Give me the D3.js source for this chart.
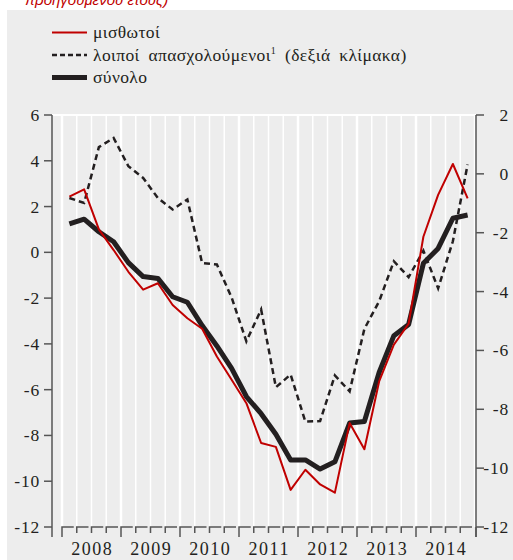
<!DOCTYPE html>
<html>
<head>
<meta charset="utf-8">
<script src="https://cdn.jsdelivr.net/npm/d3@7"></script>
</head>
<body style="margin:0; background:#fff">
<div id="chart"></div>
<script>
// quarterly data, 2008Q1 .. 2014Q4
var years = [2008, 2009, 2010, 2011, 2012, 2013, 2014];
var leftTicks = [6, 4, 2, 0, -2, -4, -6, -8, -10, -12];
var rightTicks = [2, 0, -2, -4, -6, -8, -10, -12];

// μισθωτοί (left scale)
var employees = [2.43, 2.75, 1.0, 0.1, -0.85, -1.63, -1.35, -2.3, -2.88, -3.34,
  -4.55, -5.57, -6.59, -8.33, -8.5, -10.38, -9.5, -10.14, -10.5, -7.46,
  -8.6, -5.64, -4.03, -3.12, 0.68, 2.51, 3.86, 2.36];
// λοιποί απασχολούμενοι (right scale)
var others = [-0.82, -0.99, 0.91, 1.22, 0.26, -0.14, -0.82, -1.21, -0.87, -3.03,
  -3.08, -4.2, -5.69, -4.61, -7.25, -6.82, -8.42, -8.4, -6.85, -7.39,
  -5.27, -4.33, -2.97, -3.51, -2.61, -3.89, -2.29, 0.32];
// σύνολο (left scale)
var total = [1.24, 1.45, 0.9, 0.46, -0.45, -1.06, -1.14, -1.94, -2.18, -3.2,
  -4.09, -5.07, -6.3, -7.05, -7.95, -9.07, -9.07, -9.47, -9.15, -7.46,
  -7.39, -5.25, -3.64, -3.15, -0.48, 0.17, 1.49, 1.63];

var legendLabels = ["μισθωτοί", "λοιποί απασχολούμενοι", "σύνολο"];

var W = 513, H = 560;
var red = "#c00000", dark = "#231f20", axisCol = "#555";

function serifText(sel, size, spacing) {
  return sel.style("font-family", "'Liberation Serif', 'Times New Roman', Tinos")
    .style("font-size", size + "px")
    .style("letter-spacing", (spacing || 0) + "px")
    .style("fill", dark);
}

var svg = d3.select("#chart").append("svg")
  .attr("width", W).attr("height", H);

// cut-off title at the top
svg.append("text")
  .attr("x", 25).attr("y", 5)
  .style("font-family", "'Liberation Sans', Arial")
  .style("font-size", "15px").style("font-style", "italic")
  .style("fill", red)
  .text("προηγούμενου έτους)");

svg.append("rect").attr("x", 7).attr("y", 10)
  .attr("width", W - 7).attr("height", H - 10).attr("fill", "#ededed");

var nQ = employees.length;
var x = d3.scaleLinear().domain([0, nQ]).range([62, 475]);
var yL = d3.scaleLinear().domain([-12, 6]).range([527, 115]);
var yR = d3.scaleLinear().domain([-12, 2]).range([527, 115]);

// white quarter gridlines
var grid = svg.append("g");
d3.range(0, nQ + 1).forEach(function(q) {
  grid.append("line")
    .attr("x1", x(q)).attr("x2", x(q))
    .attr("y1", yL(6)).attr("y2", yL(-12))
    .attr("stroke", "#fff")
    .attr("stroke-width", q % 4 == 0 ? 2.5 : 1.5);
});
grid.append("line").attr("x1", 52).attr("x2", 476)
  .attr("y1", yL(6)).attr("y2", yL(6))
  .attr("stroke", "#fff").attr("stroke-width", 2);

// left axis
var la = svg.append("g");
la.append("line").attr("x1", 52).attr("x2", 52)
  .attr("y1", yL(6)).attr("y2", 537)
  .attr("stroke", axisCol).attr("stroke-width", 1.5);
leftTicks.forEach(function(t) {
  la.append("line").attr("x1", 44).attr("x2", 52)
    .attr("y1", yL(t)).attr("y2", yL(t))
    .attr("stroke", axisCol).attr("stroke-width", 1.5);
  serifText(la.append("text"), 17.5, 0.8)
    .attr("x", 40).attr("y", yL(t) + 6)
    .attr("text-anchor", "end")
    .text(t);
});

// right axis
var ra = svg.append("g");
ra.append("line").attr("x1", 476).attr("x2", 476)
  .attr("y1", yR(2)).attr("y2", 537)
  .attr("stroke", axisCol).attr("stroke-width", 1.5);
rightTicks.forEach(function(t) {
  ra.append("line").attr("x1", 476).attr("x2", 484)
    .attr("y1", yR(t)).attr("y2", yR(t))
    .attr("stroke", axisCol).attr("stroke-width", 1.5);
  serifText(ra.append("text"), 17.5, 0.8)
    .attr("x", 509).attr("y", yR(t) + 6)
    .attr("text-anchor", "end")
    .text(t);
});

// bottom axis: bracket-like quarter segments
var xa = svg.append("g");
d3.range(0, nQ).forEach(function(q) {
  var x0 = x(q), x1 = x(q + 1) - 3;
  var len = q % 4 == 0 ? 10 : 6;
  xa.append("path")
    .attr("d", "M" + x0 + "," + (527 + len) + "V527H" + x1)
    .attr("fill", "none").attr("stroke", axisCol).attr("stroke-width", 1.5);
});
xa.append("line").attr("x1", 476).attr("x2", 476)
  .attr("y1", 527).attr("y2", 537)
  .attr("stroke", axisCol).attr("stroke-width", 1.5);
years.forEach(function(yr, k) {
  serifText(xa.append("text"), 18, 1.5)
    .attr("x", x(k * 4 + 2) + 0.75).attr("y", 555)
    .attr("text-anchor", "middle")
    .text(yr);
});

// series
var lineL = d3.line().x(function(d, i) { return x(i + 0.5); })
  .y(function(d) { return yL(d); });
var lineR = d3.line().x(function(d, i) { return x(i + 0.5); })
  .y(function(d) { return yR(d); });

svg.append("path").datum(others).attr("d", lineR)
  .attr("fill", "none").attr("stroke", dark)
  .attr("stroke-width", 2.5).attr("stroke-dasharray", "6,4");
svg.append("path").datum(total).attr("d", lineL)
  .attr("fill", "none").attr("stroke", dark)
  .attr("stroke-width", 5).attr("stroke-linejoin", "round");
svg.append("path").datum(employees).attr("d", lineL)
  .attr("fill", "none").attr("stroke", red)
  .attr("stroke-width", 2).attr("stroke-linejoin", "round");

// legend
var lg = svg.append("g");
var styles = [
  { stroke: red, w: 2, dash: null },
  { stroke: dark, w: 2.5, dash: "5,3" },
  { stroke: dark, w: 5, dash: null }
];
legendLabels.forEach(function(lbl, i) {
  var yy = 32.5 + i * 22.5;
  lg.append("line").attr("x1", 52).attr("x2", 87)
    .attr("y1", yy).attr("y2", yy)
    .attr("stroke", styles[i].stroke).attr("stroke-width", styles[i].w)
    .attr("stroke-dasharray", styles[i].dash);
  var t = serifText(lg.append("text"), 17.5, 0.4)
    .attr("x", 93).attr("y", yy + 5.5)
    .text(lbl);
  if (i == 1) {
    t.style("word-spacing", "4px");
    t.append("tspan").attr("dy", -7).style("font-size", "10px").text("1");
    t.append("tspan").attr("dy", 7).text(" (δεξιά κλίμακα)");
  }
});
</script>
</body>
</html>
